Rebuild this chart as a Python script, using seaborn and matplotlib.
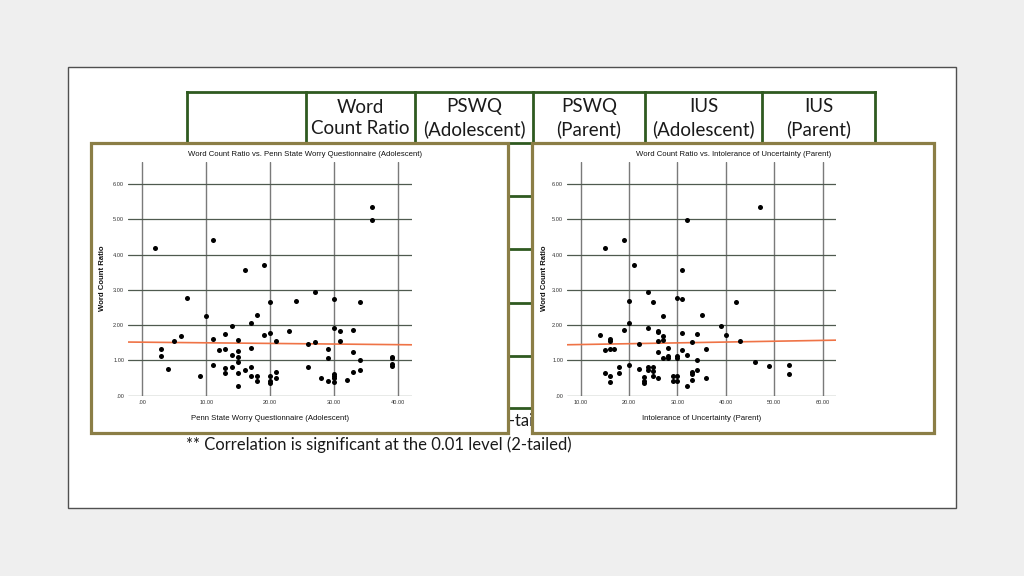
import numpy as np
import pandas as pd
import matplotlib
matplotlib.use("Agg")
from matplotlib import pyplot as plt
from matplotlib.patches import Rectangle
import seaborn as sns

# ---- data ----
table_headers = ["Word\nCount Ratio", "PSWQ\n(Adolescent)", "PSWQ\n(Parent)",
                 "IUS\n(Adolescent)", "IUS\n(Parent)"]
footnote_05 = "* Correlation is significant at the 0.05 level (2-tailed)"
footnote_01 = "** Correlation is significant at the 0.01 level (2-tailed)"

pswq_adolescent = [2, 11, 16, 19, 36, 36,
                   3, 3, 4, 5, 6, 7, 9, 10, 11, 11, 12, 13, 13, 13, 13, 14, 14, 14,
                   15, 15, 15, 15, 15, 15, 16, 17, 17, 17, 17, 18, 18, 18, 19,
                   20, 20, 20, 20, 20, 21, 21, 21, 23, 24, 26, 26, 27, 27, 28,
                   29, 29, 29, 30, 30, 30, 30, 30, 30, 31, 31, 32, 33, 33, 33,
                   34, 34, 34, 39, 39, 39, 39]
wcr_pswq = [4.19, 4.41, 3.57, 3.70, 5.35, 4.98,
            1.33, 1.13, 0.75, 1.55, 1.70, 2.78, 0.56, 2.26, 1.60, 0.87, 1.29, 1.74, 1.32, 0.77, 0.64, 1.97, 1.15, 0.80,
            1.58, 1.27, 1.10, 0.95, 0.63, 0.27, 0.73, 2.05, 1.34, 0.80, 0.56, 2.30, 0.56, 0.41, 1.71,
            2.65, 1.78, 0.56, 0.41, 0.36, 1.54, 0.68, 0.51, 1.84, 2.69, 1.47, 0.80, 2.93, 1.51, 0.51,
            1.31, 1.06, 0.41, 2.74, 1.91, 0.62, 0.55, 0.51, 0.38, 1.83, 1.54, 0.44, 1.86, 1.23, 0.68,
            2.66, 1.00, 0.73, 1.09, 1.06, 0.90, 0.84]

ius_parent = [15, 19, 21, 31, 32, 47,
              14, 15, 15, 16, 16, 16, 16, 16, 17, 18, 18, 19, 20, 20, 20, 22, 22, 23, 23, 23,
              24, 24, 24, 24, 25, 25, 25, 25, 26, 26, 26, 26, 26, 27, 27, 27, 27, 28, 28, 28,
              29, 29, 30, 30, 30, 30, 30, 31, 31, 31, 32, 32, 33, 33, 33, 33, 34, 34, 34, 35,
              36, 36, 39, 40, 42, 43, 46, 49, 53, 53]
wcr_ius = [4.19, 4.41, 3.70, 3.57, 4.98, 5.35,
           1.72, 1.28, 0.63, 1.60, 1.56, 1.32, 0.56, 0.38, 1.32, 0.80, 0.63, 1.86, 2.68, 2.05, 0.87, 1.47, 0.75, 0.52, 0.41, 0.36,
           2.93, 1.91, 0.80, 0.72, 2.65, 0.80, 0.71, 0.56, 1.84, 1.81, 1.54, 1.23, 0.50, 2.26, 1.69, 1.57, 1.07, 1.34, 1.11, 1.07,
           0.56, 0.41, 2.78, 1.11, 1.07, 0.56, 0.41, 2.74, 1.78, 1.30, 1.15, 0.27, 1.51, 0.68, 0.60, 0.44, 1.74, 1.00, 0.73, 2.30,
           1.31, 0.51, 1.97, 1.73, 2.65, 1.54, 0.95, 0.84, 0.88, 0.62]

y_ticks = [0, 1, 2, 3, 4, 5, 6]
x_ticks_left = [0, 10, 20, 30, 40]
x_ticks_right = [10, 20, 30, 40, 50, 60]

df_left = pd.DataFrame({"x": pswq_adolescent, "y": wcr_pswq})
df_right = pd.DataFrame({"x": ius_parent, "y": wcr_ius})

# ---- styling ----
sns.set_style("white")
plt.rcParams["font.family"] = ["Liberation Sans", "DejaVu Sans"]

W, H = 1024, 576
fig = plt.figure(figsize=(W / 100, H / 100), dpi=100)
fig.patch.set_facecolor("#efefef")

# background axes in pixel coordinates for the slide, table and panels
bg = fig.add_axes([0, 0, 1, 1])
bg.set_xlim(0, W)
bg.set_ylim(H, 0)
bg.axis("off")

green = "#2f5a20"
olive = "#8b7e46"

bg.add_patch(Rectangle((68, 67), 888, 441, facecolor="white", edgecolor="#505050", lw=1.0, zorder=0))

# table behind the plots
col_edges = [187, 306, 415, 533, 645, 762, 875]
row_edges = [92, 143, 196, 249, 303, 356, 408]
for yy in row_edges:
    bg.plot([col_edges[0], col_edges[-1]], [yy, yy], color=green, lw=2.0, zorder=1, solid_capstyle="projecting")
for xx in col_edges:
    bg.plot([xx, xx], [row_edges[0], row_edges[-1]], color=green, lw=2.0, zorder=1, solid_capstyle="projecting")
for i, lab in enumerate(table_headers):
    cx = (col_edges[i + 1] + col_edges[i + 2]) / 2
    bg.text(cx, 118, lab, ha="center", va="center", fontsize=13.5, family=["Lato", "DejaVu Sans"],
            linespacing=1.3, color="#1a1a1a", zorder=1)

# footnote partly hidden behind the panels; only the gap between them shows
gap = Rectangle((509, 408), 21, 30, transform=bg.transData)
fn = bg.text(181, 421, footnote_05, ha="left", va="center", fontsize=12, family=["Lato", "DejaVu Sans"],
             color="#1a1a1a", zorder=1)
fn.set_clip_path(gap)
bg.text(186, 445, footnote_01, ha="left", va="center", fontsize=12, family=["Lato", "DejaVu Sans"],
        color="#1a1a1a", zorder=1)

# panels
panels = [(90.5, 142.5, 417, 290), (531.5, 142.5, 402, 290)]
for (px, py, pw, ph) in panels:
    bg.add_patch(Rectangle((px, py), pw, ph, facecolor="white", edgecolor=olive, lw=2.3, zorder=5))

titles = ["Word Count Ratio vs. Penn State Worry Questionnaire (Adolescent)",
          "Word Count Ratio vs. Intolerance of Uncertainty (Parent)"]
xlabels = ["Penn State Worry Questionnaire (Adolescent)", "Intolerance of Uncertainty (Parent)"]
title_x = [305, 734]
xlabel_x = [270, 702]
ylabel_x = [103, 544]
for i in range(2):
    bg.text(title_x[i], 155, titles[i], ha="center", va="center", fontsize=5.6, zorder=6, color="#111111")
    bg.text(xlabel_x[i], 418, xlabels[i], ha="center", va="center", fontsize=5.6, zorder=6, color="#111111")
    bg.text(ylabel_x[i], 278, "Word Count Ratio", ha="center", va="center", rotation=90,
            fontsize=5.6, fontweight="bold", zorder=6, color="#111111")


def fmt(v):
    s = f"{v:.2f}"
    return s[1:] if s.startswith("0") else s


def draw_scatter(rect, df, xlim, xticks):
    ax = fig.add_axes(rect)
    ax.patch.set_alpha(0)
    ax.set_xlim(*xlim)
    ax.set_ylim(0, 6.64)
    for t in xticks:
        ax.axvline(t, color="#7a7a7a", lw=1.0, zorder=1)
    for t in y_ticks:
        ax.axhline(t, color="#4f5a4f", lw=0.9, zorder=1)
    sns.regplot(data=df, x="x", y="y", ax=ax, scatter=False, ci=None, truncate=False,
                line_kws={"color": "#ef7346", "lw": 1.2, "zorder": 2})
    sns.scatterplot(data=df, x="x", y="y", ax=ax, color="black", s=13, linewidth=0, zorder=3)
    ax.set_xticks(xticks)
    ax.set_xticklabels([fmt(t) for t in xticks])
    ax.set_yticks(y_ticks)
    ax.set_yticklabels([fmt(t) for t in y_ticks])
    ax.tick_params(length=0, labelsize=4.1, colors="#333333", pad=3)
    ax.set_xlabel("")
    ax.set_ylabel("")
    sns.despine(ax=ax, left=True, bottom=True)
    return ax


bottom = 1 - 395.5 / H
height = (395.5 - 161.7) / H
draw_scatter([128.3 / W, bottom, (411.7 - 128.3) / W, height], df_left, (-2.19, 42.16), x_ticks_left)
draw_scatter([567.3 / W, bottom, (836.0 - 567.3) / W, height], df_right, (7.25, 62.76), x_ticks_right)

fig.savefig("out.png", dpi=100)
